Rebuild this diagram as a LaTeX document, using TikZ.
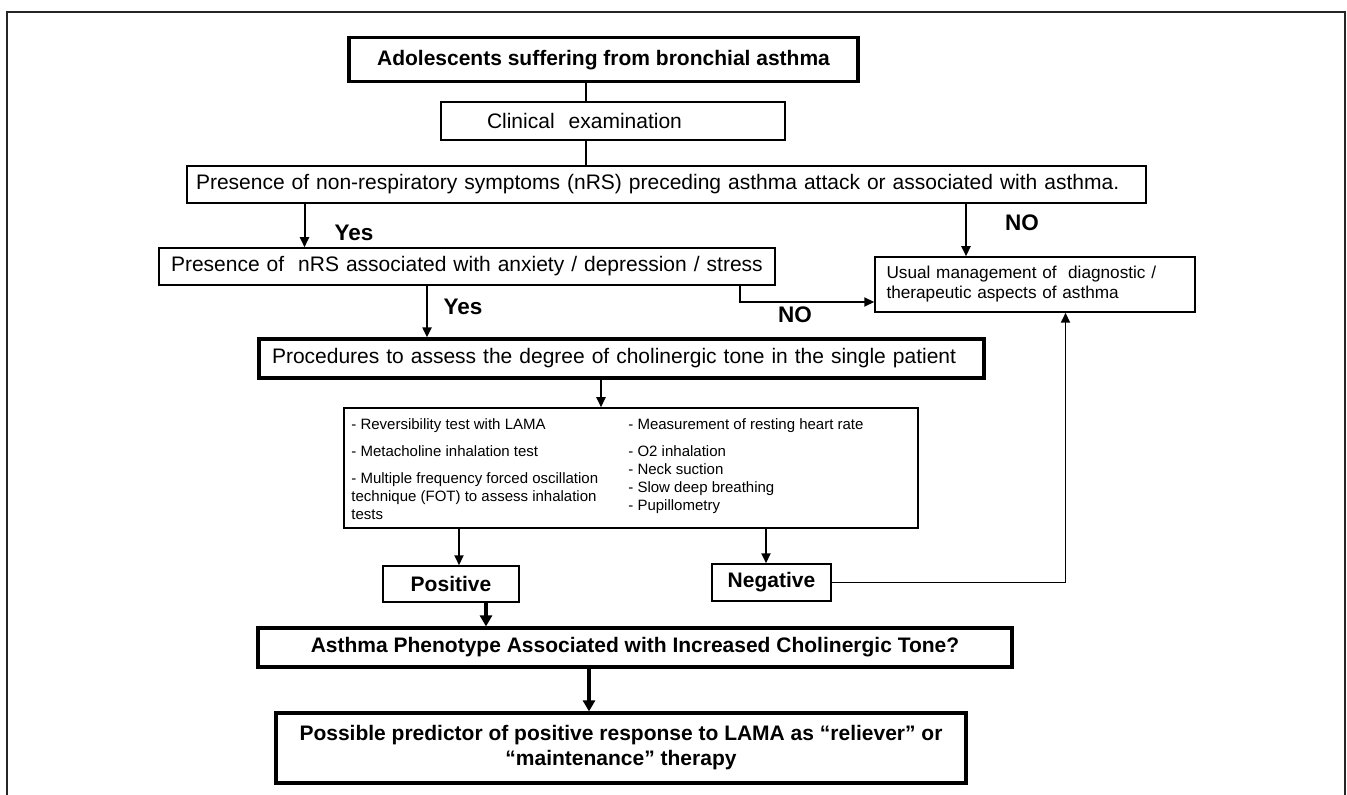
\documentclass[tikz,border=0pt]{standalone}
\usepackage{fontspec}
\setmainfont{Liberation Sans}
\usetikzlibrary{arrows.meta, positioning, calc}

\begin{document}
\begin{tikzpicture}[x=0.5pt, y=-0.5pt,
  blk/.style={draw=black, line width=0.75pt, inner sep=0pt, align=center,
              font=\fontsize{10.5}{12.5}\selectfont},
  thk/.style={blk, line width=1.6pt},
  bld/.style={font=\fontsize{10.5}{12.5}\selectfont\bfseries},
  lst/.style={font=\fontsize{7.5}{9}\selectfont, align=left, inner sep=0pt,
              anchor=north west},
  ans/.style={font=\fontsize{11.25}{13}\selectfont\bfseries, inner sep=0pt},
  lin/.style={line width=0.75pt},
  arr/.style={-{Triangle[length=5pt, width=4.5pt]}, line width=1pt},
  barr/.style={-{Triangle[length=5.5pt, width=6pt]}, line width=1.6pt}
]
\useasboundingbox (0,0) rectangle (1347,795);

%% ── Outer frame (open at the bottom)
\draw[line width=0.75pt, black!85] (7,795) -- (7,12) -- (1345,12) -- (1345,795);

%% ── Top of the chart
\node[thk, bld, minimum width=254.5pt, minimum height=22pt] (start) at (603.5,59.7)
  {Adolescents suffering from bronchial asthma};
\node[blk, align=left, text width=126pt, inner xsep=23pt, minimum height=19pt] (clin) at (613,121)
  {Clinical\ \ examination};
\node[blk, align=left, text width=470.5pt, inner xsep=4.5pt, minimum height=18.5pt] (nrs) at (666.5,184.5)
  {Presence of non-respiratory symptoms (nRS) preceding asthma attack or associated with asthma.};
\node[blk, align=left, text width=296pt, inner xsep=6pt, minimum height=18.5pt] (anx) at (467,266.5)
  {Presence of\ \ nRS associated with anxiety / depression / stress};
\node[blk, align=left, text width=148.5pt, inner xsep=5.75pt, minimum height=27.5pt,
      font=\fontsize{8.6}{10}\selectfont] (usual) at (1035,284.5)
  {Usual management of\ \ diagnostic /\\therapeutic aspects of asthma};

%% ── Assessment of cholinergic tone
\node[thk, align=left, text width=349.5pt, inner xsep=6.5pt, minimum height=19.5pt] (proc) at (621.5,358.5)
  {Procedures to assess the degree of cholinergic tone in the single patient};
\node[blk, minimum width=287pt, minimum height=60pt] (tests) at (631,468) {};
\node[lst] (lcol) at (351,418)
  {- Reversibility test with LAMA\\[4.5pt]
   - Metacholine inhalation test\\[4.5pt]
   - Multiple frequency forced oscillation\\
   technique (FOT) to assess inhalation\\
   tests};
\node[lst] (rcol) at (628,418)
  {- Measurement of resting heart rate\\[4.5pt]
   - O2 inhalation\\
   - Neck suction\\
   - Slow deep breathing\\
   - Pupillometry};

%% ── Outcome
\node[blk, bld, minimum width=68pt, minimum height=18pt] (pos) at (451,584) {Positive};
\node[blk, bld, minimum width=59.5pt, minimum height=18.5pt] (neg) at (771.5,582.5) {Negative};
\node[thk, bld, minimum width=377pt, minimum height=19.5pt] (pheno) at (635,647.5)
  {Asthma Phenotype Associated with Increased Cholinergic Tone?};
\node[thk, bld, minimum width=345pt, minimum height=35pt] (pred) at (621,748)
  {Possible predictor of positive response to LAMA as “reliever” or\\“maintenance” therapy};

%% ── Connector columns
\coordinate (cA)  at (586,0);
\coordinate (cY1) at (304.5,0);
\coordinate (cN1) at (966,0);
\coordinate (cY2) at (427,0);
\coordinate (kN2) at (740,302);
\coordinate (cP)  at (601,0);
\coordinate (cT1) at (459,0);
\coordinate (cT2) at (766,0);
\coordinate (cR)  at (486,0);
\coordinate (kF)  at (1065.5,0);
\coordinate (cQ)  at (589,0);

%% ── Connectors
\draw[lin] (start.south -| cA) -- (clin.north -| cA);
\draw[lin] (clin.south -| cA) -- (nrs.north -| cA);
\draw[arr] (nrs.south -| cY1) -- (anx.north -| cY1);
\draw[arr] (nrs.south -| cN1) -- (usual.north -| cN1);
\draw[arr] (anx.south -| cY2) -- (proc.north -| cY2);
\draw[arr] (anx.south -| kN2) |- (usual.west |- kN2);
\draw[arr] (proc.south -| cP) -- (tests.north -| cP);
\draw[arr] (tests.south -| cT1) -- (pos.north -| cT1);
\draw[arr] (tests.south -| cT2) -- (neg.north -| cT2);
\draw[arr, line width=0.9pt] (neg.east) -| (usual.south -| kF);
\draw[barr] (pos.south -| cR) -- (pheno.north -| cR);
\draw[barr] (pheno.south -| cQ) -- (pred.north -| cQ);

%% ── Branch labels
\node[ans] (yes1) at (354,233) {Yes};
\node[ans] (no1)  at (1022,223) {NO};
\node[ans] (yes2) at (463,307) {Yes};
\node[ans] (no2)  at (795,315) {NO};

\end{tikzpicture}
\end{document}
